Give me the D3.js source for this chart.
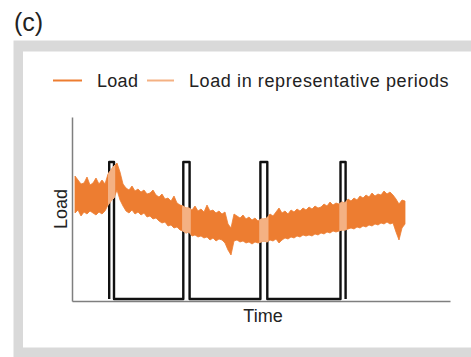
<!DOCTYPE html>
<html>
<head>
<meta charset="utf-8">
<script src="https://cdn.jsdelivr.net/npm/d3@7"></script>
<style>
  html, body { margin: 0; padding: 0; background: #fff; }
  svg { display: block; }
  text { font-family: "Liberation Sans", Arial, sans-serif; fill: #222; }
</style>
</head>
<body>
<svg id="chart" width="471" height="357"></svg>
<script>
// Load time series (upper and lower envelope of the hourly band), one value per time step
const loadHigh = [
  125,121,117,118,124,116,118,123,117,121,
  117,127,131,135,138,129,117,113,111,115,
  110,112,109,111,107,108,111,106,104,107,
  102,103,100,105,98,96,95,93,93,91,
  95,90,92,89,96,90,91,88,90,87,
  89,77,73,87,85,83,86,82,84,81,
  83,80,82,82,83,87,85,89,93,88,
  90,87,91,89,92,90,93,91,94,92,
  95,93,94,97,95,99,96,98,97,99,
  98,102,100,103,101,105,103,106,104,108,
  105,107,106,110,107,109,106,102,97,101,100
];
const loadLow = [
  88,91,85,89,87,90,88,86,89,87,
  90,96,100,103,111,101,95,90,88,91,
  87,89,86,88,84,85,82,83,80,78,
  79,75,76,73,74,71,70,68,69,65,
  66,64,65,63,64,61,63,60,62,61,
  58,51,46,60,61,59,60,58,59,57,
  59,58,59,60,59,61,60,62,58,61,
  63,62,64,63,65,64,66,65,66,65,
  67,66,68,67,69,68,70,69,70,71,
  71,72,73,72,74,73,75,74,76,75,
  77,76,78,77,79,77,78,69,61,73,77
];

// Representative periods (start / end time step)
const periodStart = [12.4, 37.1, 62.8, 89.5];
const periodEnd   = [14.0, 39.2, 65.1, 91.2];
const periodOff = 2;     // indicator level outside a period
const periodOn  = 139;   // indicator level inside a period

const legendLabels = ["Load", "Load in representative periods"];
const panelLabel = "(c)";
const xTitle = "Time";
const yTitle = "Load";

const colLoad = "#ED7D31";
const colRep = "#F4B183";

const svg = d3.select("#chart");

// Panel frame
svg.append("rect").attr("x", 13.5).attr("y", 40.5).attr("width", 480).attr("height", 330).attr("fill", "#d9d9d9");
svg.append("rect").attr("x", 23).attr("y", 51.5).attr("width", 470).attr("height", 296).attr("fill", "#fff");

svg.append("text").attr("x", 14).attr("y", 31).attr("font-size", 25).text(panelLabel);

const x = d3.scaleLinear().domain([0, 126]).range([72, 450]);
const y = d3.scaleLinear().domain([0, 184]).range([301, 117]);

const series = loadHigh.map((h, i) => ({ t: i + 1, high: h, low: loadLow[i] }));

// Axes (lines only, no ticks)
const axisColor = "#7f7f7f";
const gx = svg.append("g").attr("transform", `translate(0,${y(0)})`)
  .call(d3.axisBottom(x).tickValues([]).tickSizeOuter(0));
const gy = svg.append("g").attr("transform", `translate(${x(0)},0)`)
  .call(d3.axisLeft(y).tickValues([]).tickSizeOuter(0));
[gx, gy].forEach(g => g.select(".domain").attr("stroke", axisColor).attr("stroke-width", 1.5));

// Representative-period indicator
const ind = [];
periodStart.forEach((s, i) => {
  ind.push([s, periodOff], [s, periodOn], [periodEnd[i], periodOn], [periodEnd[i], periodOff]);
});
svg.append("path")
  .attr("d", d3.line().x(d => x(d[0])).y(d => y(d[1]))(ind))
  .attr("fill", "none").attr("stroke", "#111").attr("stroke-width", 2.4)
  .attr("stroke-linejoin", "round");

// Load band
const area = d3.area().x(d => x(d.t)).y0(d => y(d.low)).y1(d => y(d.high));
svg.append("path").attr("d", area(series)).attr("fill", colLoad).attr("stroke", colLoad).attr("stroke-width", 0.8);

// Load within representative periods
const defs = svg.append("defs");
const clip = defs.append("clipPath").attr("id", "rep-clip");
periodStart.forEach((s, i) => {
  clip.append("rect")
    .attr("x", x(s) - 1.2).attr("y", 0)
    .attr("width", x(periodEnd[i]) - x(s) + 2.4).attr("height", 357);
});
svg.append("path").attr("d", area(series)).attr("fill", colRep).attr("stroke", colRep)
  .attr("stroke-width", 0.8).attr("clip-path", "url(#rep-clip)");

// Axis titles
svg.append("text").attr("x", 263).attr("y", 322).attr("text-anchor", "middle").attr("font-size", 18).text(xTitle);
svg.append("text").attr("transform", "translate(67,209) rotate(-90)").attr("text-anchor", "middle")
  .attr("font-size", 18).text(yTitle);

// Legend
const leg = svg.append("g");
leg.append("line").attr("x1", 53).attr("x2", 82).attr("y1", 80.5).attr("y2", 80.5).attr("stroke", colLoad).attr("stroke-width", 2);
leg.append("text").attr("x", 97).attr("y", 87).attr("font-size", 18).attr("letter-spacing", 0.3).text(legendLabels[0]);
leg.append("line").attr("x1", 147).attr("x2", 174).attr("y1", 80.5).attr("y2", 80.5).attr("stroke", colRep).attr("stroke-width", 2);
leg.append("text").attr("x", 189).attr("y", 87).attr("font-size", 18).attr("letter-spacing", 0.6).text(legendLabels[1]);
</script>
</body>
</html>
